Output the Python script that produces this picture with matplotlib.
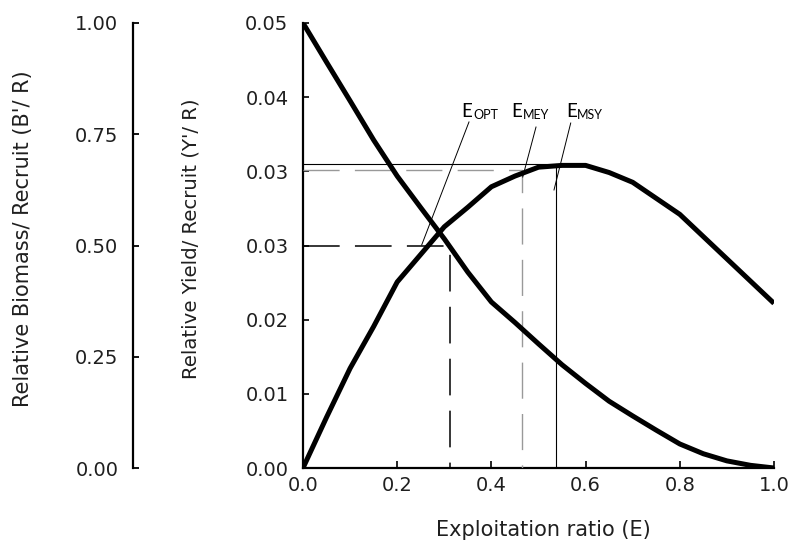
import matplotlib
matplotlib.use("Agg")
import matplotlib.pyplot as plt

# Exploitation ratio grid
E = [0.00, 0.05, 0.10, 0.15, 0.20, 0.25, 0.30, 0.35, 0.40, 0.45, 0.50,
     0.55, 0.60, 0.65, 0.70, 0.75, 0.80, 0.85, 0.90, 0.95, 1.00]

# Relative yield per recruit (Y'/R)
yield_per_recruit = [0.0000, 0.0057, 0.0112, 0.0159, 0.0209, 0.0240, 0.0271,
                     0.0293, 0.0316, 0.0328, 0.0338, 0.0340, 0.0340, 0.0332,
                     0.0321, 0.0303, 0.0285, 0.0260, 0.0235, 0.0210, 0.0185]

# Relative biomass per recruit (B'/R)
biomass_per_recruit = [1.000, 0.912, 0.825, 0.737, 0.656, 0.585, 0.515,
                       0.440, 0.373, 0.327, 0.279, 0.232, 0.190, 0.150,
                       0.117, 0.085, 0.054, 0.032, 0.016, 0.006, 0.000]

# Reference points
E_OPT, B_OPT = 0.312, 0.50
E_MEY, Y_MEY = 0.466, 0.0335
E_MSY, Y_MSY = 0.537, 0.0342

x_ticks = [0.0, 0.2, 0.4, 0.6, 0.8, 1.0]
x_tick_labels = ["0.0", "0.2", "0.4", "0.6", "0.8", "1.0"]
y_ticks = [0.0, 0.05 / 6, 0.1 / 6, 0.025, 0.2 / 6, 0.25 / 6, 0.05]
y_tick_labels = ["0.00", "0.01", "0.02", "0.03", "0.03", "0.04", "0.05"]
b_ticks = [0.0, 0.25, 0.5, 0.75, 1.0]
b_tick_labels = ["0.00", "0.25", "0.50", "0.75", "1.00"]

TXT = "#1f1f1f"
FONT = "DejaVu Sans"

fig = plt.figure(figsize=(7.92, 5.42), dpi=100)
W, H = 792, 542
ax = fig.add_axes([303 / W, 1 - 468 / H, 471 / W, 445 / H])

curve_kw = dict(color="black", lw=3.6, solid_joinstyle="round",
                solid_capstyle="butt", zorder=5)
ax.plot(E, yield_per_recruit, **curve_kw)
ax.set_xlim(0, 1)
ax.set_ylim(0, 0.05)

# MSY: thin solid lines
ax.plot([0, E_MSY + 0.011], [Y_MSY, Y_MSY], color="black", lw=0.8, zorder=3)
ax.plot([E_MSY, E_MSY], [Y_MSY, 0], color="black", lw=0.8, zorder=3)
# MEY: grey dotted lines
ax.plot([0, E_MEY, E_MEY], [Y_MEY, Y_MEY, 0], color="#999999", lw=1.0,
        linestyle=(0, (26, 11)), zorder=3)

# Biomass axis, offset to the far left
axb = ax.twinx()
axb.plot(E, biomass_per_recruit, **curve_kw)
axb.set_ylim(0, 1)
axb.plot([0, E_OPT, E_OPT], [B_OPT, B_OPT, 0], color="black", lw=1.1,
         linestyle=(0, (24, 10)), zorder=3)

for a in (ax, axb):
    a.spines["top"].set_visible(False)
    a.spines["right"].set_visible(False)
axb.spines["bottom"].set_visible(False)
axb.spines["left"].set_visible(True)
axb.spines["left"].set_position(("outward", 170 * 72 / 100))
axb.spines["left"].set_linewidth(1.6)
axb.yaxis.tick_left()
axb.set_yticks(b_ticks)
axb.set_yticklabels(b_tick_labels, fontsize=14, color=TXT, family=FONT)
axb.tick_params(axis="y", direction="in", length=4, width=1.3, pad=10.5)

ax.spines["left"].set_linewidth(1.6)
ax.spines["bottom"].set_linewidth(1.6)
ax.set_xticks(x_ticks)
ax.set_xticklabels(x_tick_labels, fontsize=14, color=TXT, family=FONT)
ax.set_yticks(y_ticks)
ax.set_yticklabels(y_tick_labels, fontsize=14, color=TXT, family=FONT)
ax.tick_params(axis="x", direction="in", length=5, width=1.2, pad=6)
ax.tick_params(axis="y", direction="in", length=4.5, width=1.2, pad=10.5)

# Axis titles
ax.text(-0.5945, 0.515, "Relative Biomass/ Recruit (B'/ R)", rotation=90,
        ha="center", va="center", fontsize=15, color=TXT, family=FONT,
        transform=ax.transAxes)
ax.text(-0.238, 0.515, "Relative Yield/ Recruit (Y'/ R)", rotation=90,
        ha="center", va="center", fontsize=14.2, color=TXT, family=FONT,
        transform=ax.transAxes)
ax.text(0.51, -0.139, "Exploitation ratio (E)", ha="center", va="center",
        fontsize=15, color=TXT, family=FONT, transform=ax.transAxes)

# Reference point labels with leader lines
labels = [("OPT", 0.337, 0.3616, (0.3524, 0.03888), (0.252, 0.02506)),
          ("MEY", 0.443, 0.4677, (0.4947, 0.03831), (0.4665, 0.0327)),
          ("MSY", 0.558, 0.581, (0.5684, 0.03876), (0.5329, 0.03124))]
for sub, xe, xs, p0, p1 in labels:
    ax.text(xe, 0.03947, "E", fontsize=13.5, family="Lato", color="black",
            ha="left", va="baseline")
    ax.text(xs, 0.03925, sub, fontsize=9, family="Lato", color="black",
            ha="left", va="baseline")
    ax.plot([p0[0], p1[0]], [p0[1], p1[1]], color="black", lw=0.7, zorder=4)

fig.savefig("out.png", dpi=100)
